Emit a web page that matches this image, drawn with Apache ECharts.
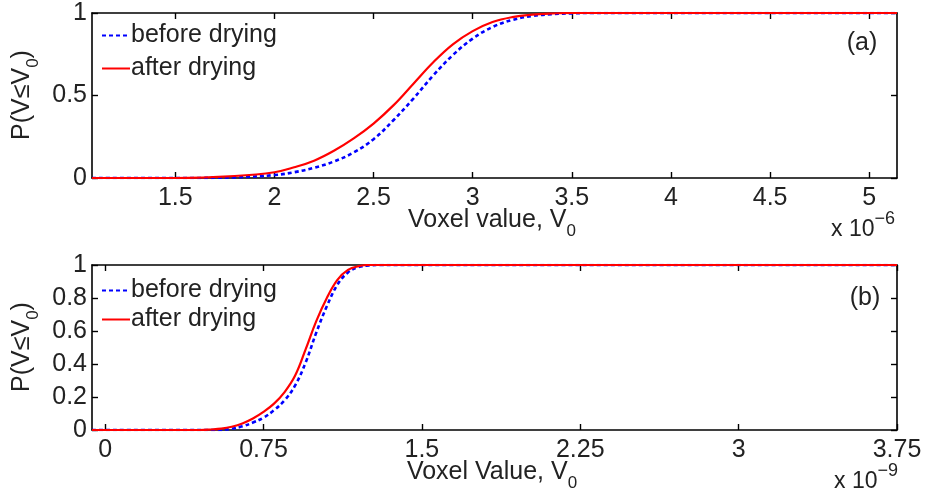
<!DOCTYPE html>
<html lang="en">
<head>
  <meta charset="UTF-8">
  <title>Voxel value CDF</title>
  <script src="https://cdn.jsdelivr.net/npm/echarts@6.0.0/dist/echarts.min.js"></script>
</head>
<style>
    html, body { margin: 0; padding: 0; background: #fff; }
    #main { width: 925px; height: 501px; }
</style>
<body>
<div id="main"></div>
<script>
  // panel (a): voxel value in units of 1e-6
  const topX = [1.08, 1.5, 1.8, 2.0, 2.1, 2.2, 2.3, 2.4, 2.5, 2.6, 2.7, 2.8, 2.9, 3.0, 3.1, 3.2, 3.3, 3.4, 3.5, 3.6, 3.8, 4.5, 5.14]
  const topBefore = [0, 0, 0.004, 0.018, 0.035, 0.062, 0.1, 0.155, 0.235, 0.35, 0.48, 0.62, 0.745, 0.845, 0.915, 0.958, 0.982, 0.993, 0.998, 1, 1, 1, 1]
  const topAfter = [0, 0, 0.012, 0.035, 0.065, 0.105, 0.165, 0.24, 0.33, 0.44, 0.57, 0.7, 0.81, 0.89, 0.945, 0.975, 0.99, 0.997, 1, 1, 1, 1, 1]
  const topTicks = [1.5, 2, 2.5, 3, 3.5, 4, 4.5, 5]

  // panel (b): voxel value in units of 1e-9
  const botX = [-0.062, 0.45, 0.5, 0.55, 0.6, 0.65, 0.7, 0.75, 0.8, 0.85, 0.9, 0.95, 1.0, 1.05, 1.1, 1.15, 1.2, 1.25, 1.3, 1.5, 3.75]
  const botBefore = [0, 0, 0, 0, 0.008, 0.022, 0.045, 0.075, 0.12, 0.18, 0.27, 0.41, 0.59, 0.75, 0.88, 0.955, 0.987, 0.997, 1, 1, 1]
  const botAfter = [0, 0, 0.003, 0.008, 0.02, 0.04, 0.07, 0.11, 0.16, 0.23, 0.33, 0.49, 0.66, 0.8, 0.91, 0.97, 0.993, 1, 1, 1, 1]
  const botTicks = [0, 0.75, 1.5, 2.25, 3, 3.75]

  const seriesNames = ['before drying', 'after drying']

  const FONT = 'Liberation Sans'
  const FS = 25
  const txt = '#222'

  const pairs = (xs, ys) => xs.map((x, i) => [x, ys[i]])

  function xAx(gi, min, max, ticks, bottom) {
    return {
      type: 'value', gridIndex: gi, min: min, max: max,
      position: bottom ? 'bottom' : 'top',
      splitLine: { show: false },
      axisLine: { show: true, onZero: false, lineStyle: { color: '#000', width: 1.6 } },
      axisTick: { show: true, inside: true, length: 6, customValues: ticks, lineStyle: { color: '#000', width: 1.4 } },
      axisLabel: { show: bottom, customValues: ticks, margin: 8, color: txt, fontFamily: FONT, fontSize: FS }
    }
  }
  function yAx(gi, interval, left) {
    return {
      type: 'value', gridIndex: gi, min: 0, max: 1, interval: interval,
      position: left ? 'left' : 'right',
      splitLine: { show: false },
      axisLine: { show: true, onZero: false, lineStyle: { color: '#000', width: 1.6 } },
      axisTick: { show: true, inside: true, length: 6, lineStyle: { color: '#000', width: 1.4 } },
      axisLabel: { show: left, margin: 5, color: txt, fontFamily: FONT, fontSize: FS }
    }
  }

  function line(name, xi, yi, xs, ys) {
    const before = name === seriesNames[0]
    return {
      name: name, type: 'line', xAxisIndex: xi, yAxisIndex: yi,
      data: pairs(xs, ys),
      symbol: 'none', smooth: 0.4,
      z: before ? 3 : 4,
      itemStyle: { color: before ? '#0000ff' : '#ff0000' },
      lineStyle: before
        ? { color: '#0000ff', width: 2.6, type: [4, 3] }
        : { color: '#ff0000', width: 2.2 }
    }
  }

  const rich = {
    s: { fontFamily: FONT, fontSize: 17, padding: [15, 0, 0, 0], verticalAlign: 'top', fill: txt },
    m: { fontFamily: FONT, fontSize: FS, verticalAlign: 'top', fill: txt }
  }
  const supRich = {
    m: { fontFamily: FONT, fontSize: 23, padding: [8, 0, 0, 0], verticalAlign: 'top', fill: txt },
    p: { fontFamily: FONT, fontSize: 18, verticalAlign: 'top', fill: txt }
  }

  function label(x, y, text, rot, r) {
    return {
      type: 'text', x: x, y: y, rotation: rot || 0,
      style: { text: text, rich: r || rich, align: 'center', verticalAlign: 'middle', fill: txt,
               fontFamily: FONT, fontSize: FS }
    }
  }

  function legend(top, gap) {
    return {
      left: 96, top: top, orient: 'vertical', itemWidth: 28, itemHeight: 14, itemGap: gap,
      data: seriesNames,
      itemStyle: { opacity: 0 },
      textStyle: { color: txt, fontFamily: FONT, fontSize: FS, padding: [0, 0, 0, -4] }
    }
  }

  const chart = echarts.init(document.getElementById('main'))
  chart.setOption({
    animation: false,
    grid: [
      { left: 92, top: 13, width: 805, height: 165 },
      { left: 92, top: 265, width: 805, height: 165 }
    ],
    xAxis: [
      xAx(0, 1.08, 5.14, topTicks, true),
      xAx(0, 1.08, 5.14, topTicks, false),
      xAx(1, -0.062, 3.75, botTicks, true),
      xAx(1, -0.062, 3.75, botTicks, false)
    ],
    yAxis: [
      yAx(0, 0.5, true),
      yAx(0, 0.5, false),
      yAx(1, 0.2, true),
      yAx(1, 0.2, false)
    ],
    legend: [legend(18, 8), legend(273, 4)],
    graphic: [
      label(26, 95, '{m|P(V≤V}{s|0}{m|)}', Math.PI / 2),
      label(26, 347, '{m|P(V≤V}{s|0}{m|)}', Math.PI / 2),
      label(492, 224, '{m|Voxel value, V}{s|0}'),
      label(492, 476, '{m|Voxel Value, V}{s|0}'),
      label(863, 226, '{m|x 10}{p|−6}', 0, supRich),
      label(866, 478, '{m|x 10}{p|−9}', 0, supRich),
      label(862, 43, '{m|(a)}'),
      label(865, 298, '{m|(b)}')
    ],
    series: [
      line(seriesNames[0], 0, 0, topX, topBefore),
      line(seriesNames[1], 0, 0, topX, topAfter),
      line(seriesNames[0], 2, 2, botX, botBefore),
      line(seriesNames[1], 2, 2, botX, botAfter)
    ]
  })
</script>
</body>
</html>
